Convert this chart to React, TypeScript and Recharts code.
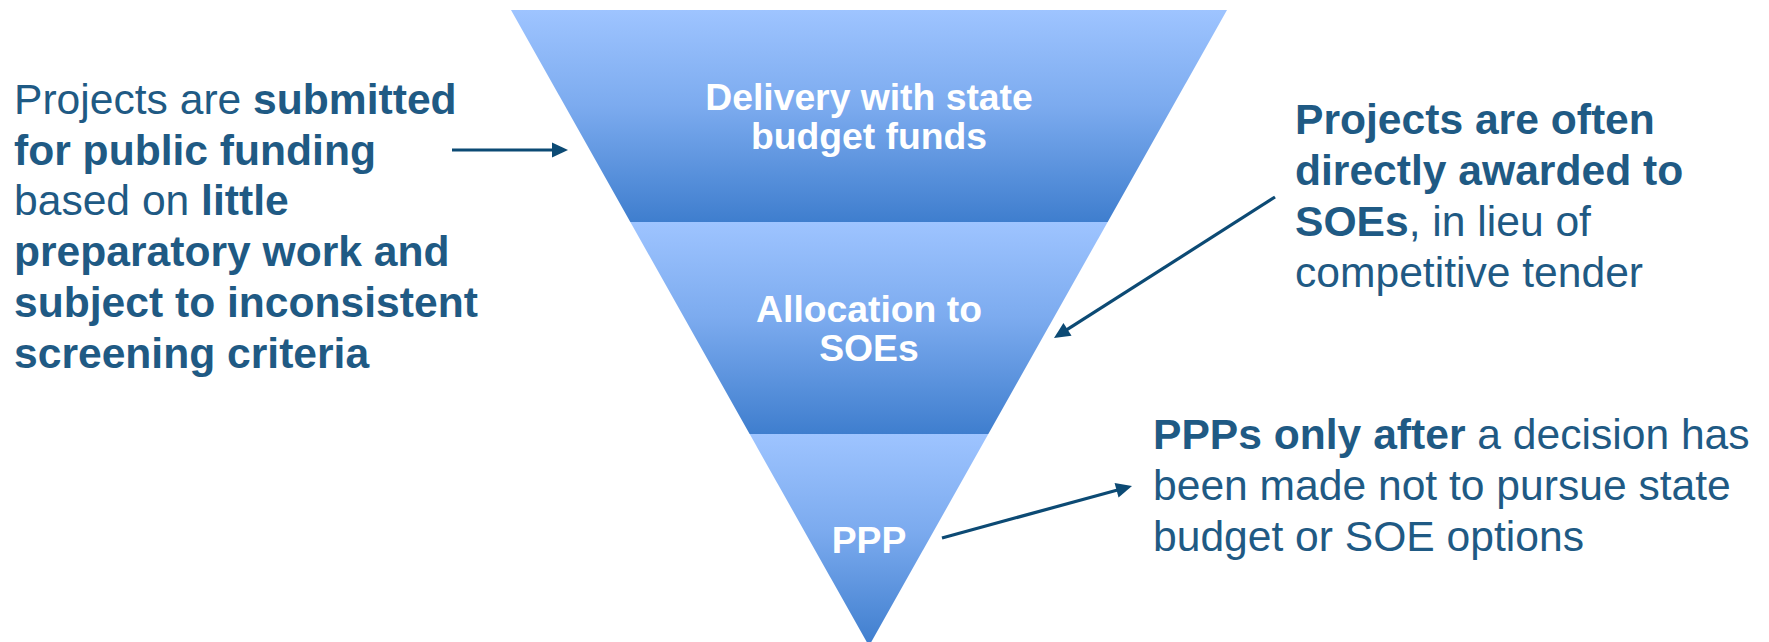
import { FunnelChart, Funnel, Cell, LabelList } from 'recharts';

// funnel stages, top to bottom
const stageNames = ['Delivery with state budget funds', 'Allocation to SOEs', 'PPP'];
const stageValues = [3, 2, 1];
const stageLabelLines = [['Delivery with state', 'budget funds'], ['Allocation to', 'SOEs'], ['PPP']];

// side notes: each line is a list of [text, bold] pieces
const leftNote: [string, boolean][][] = [
  [['Projects are ', false], ['submitted', true]],
  [['for public funding', true]],
  [['based on ', false], ['little', true]],
  [['preparatory work and', true]],
  [['subject to inconsistent', true]],
  [['screening criteria', true]],
];
const rightTopNote: [string, boolean][][] = [
  [['Projects are often', true]],
  [['directly awarded to', true]],
  [['SOEs', true], [', in lieu of', false]],
  [['competitive tender', false]],
];
const rightBottomNote: [string, boolean][][] = [
  [['PPPs only after', true], [' a decision has', false]],
  [['been made not to pursue state', false]],
  [['budget or SOE options', false]],
];

const funnelData = stageNames.map((name, i) => ({ name, value: stageValues[i] }));

const TEXT_COLOR = '#1F5A84';
const ARROW_COLOR = '#0C4A74';
const FONT = '"Liberation Sans", Arial, sans-serif';

const StageLabel = (props: any) => {
  const vb = props.viewBox || props;
  const idx = stageNames.indexOf(props.value);
  const lines = stageLabelLines[idx] || [String(props.value)];
  const cx = vb.x + vb.width / 2;
  const cy = vb.y + vb.height / 2;
  const lh = 39;
  const first = cy + 13 - ((lines.length - 1) * lh) / 2;
  return (
    <text x={cx} y={first} textAnchor="middle" fill="#fff" fontFamily={FONT} fontWeight="bold" fontSize={37.3}>
      {lines.map((l, i) => (
        <tspan key={i} x={cx} y={first + i * lh}>{l}</tspan>
      ))}
    </text>
  );
};

const Note = ({ lines, x, y, lh }: { lines: [string, boolean][][]; x: number; y: number; lh: number }) => (
  <text x={x} y={y} fill={TEXT_COLOR} fontFamily={FONT} fontSize={42.6}>
    {lines.map((parts, i) => (
      <tspan key={i} x={x} y={y + i * lh}>
        {parts.map(([t, b], j) => (
          <tspan key={j} fontWeight={b ? 'bold' : 'normal'} style={{ whiteSpace: 'pre' }}>{t}</tspan>
        ))}
      </tspan>
    ))}
  </text>
);

const Arrow = ({ x1, y1, x2, y2 }: { x1: number; y1: number; x2: number; y2: number }) => {
  const len = Math.hypot(x2 - x1, y2 - y1);
  const ux = (x2 - x1) / len;
  const uy = (y2 - y1) / len;
  const hl = 16;
  const hw = 7.5;
  const bx = x2 - ux * hl;
  const by = y2 - uy * hl;
  const pts = `${x2},${y2} ${bx - uy * hw},${by + ux * hw} ${bx + uy * hw},${by - ux * hw}`;
  return (
    <g>
      <line x1={x1} y1={y1} x2={bx + ux * 2} y2={by + uy * 2} stroke={ARROW_COLOR} strokeWidth={3.2} />
      <polygon points={pts} fill={ARROW_COLOR} />
    </g>
  );
};

export default function App() {
  return (
    <div style={{ position: 'absolute', left: 0, top: 0, width: 1769, height: 642, background: '#fff', overflow: 'hidden' }}>
      <div style={{ position: 'absolute', left: 511, top: 10 }}>
        <FunnelChart width={716} height={636} margin={{ top: 0, right: 0, bottom: 0, left: 0 }}>
          <defs>
            <linearGradient id="stageGrad" x1="0" y1="0" x2="0" y2="1">
              <stop offset="0%" stopColor="#9EC4FF" />
              <stop offset="45%" stopColor="#7CABEF" />
              <stop offset="100%" stopColor="#3F7ECE" />
            </linearGradient>
          </defs>
          <Funnel
            dataKey="value"
            nameKey="name"
            data={funnelData}
            lastShapeType="triangle"
            stroke="none"
            isAnimationActive={false}
          >
            {funnelData.map((d) => (
              <Cell key={d.name} fill="url(#stageGrad)" stroke="none" />
            ))}
            <LabelList dataKey="name" position="center" content={StageLabel} />
          </Funnel>
        </FunnelChart>
      </div>
      <svg width={1769} height={642} style={{ position: 'absolute', left: 0, top: 0, pointerEvents: 'none' }}>
        <Note lines={leftNote} x={14} y={114} lh={50.7} />
        <Note lines={rightTopNote} x={1295} y={134} lh={51} />
        <Note lines={rightBottomNote} x={1153} y={449} lh={51} />
        <Arrow x1={452} y1={150} x2={568} y2={150} />
        <Arrow x1={1275} y1={197} x2={1054} y2={338} />
        <Arrow x1={942} y1={538} x2={1132} y2={486} />
      </svg>
    </div>
  );
}
